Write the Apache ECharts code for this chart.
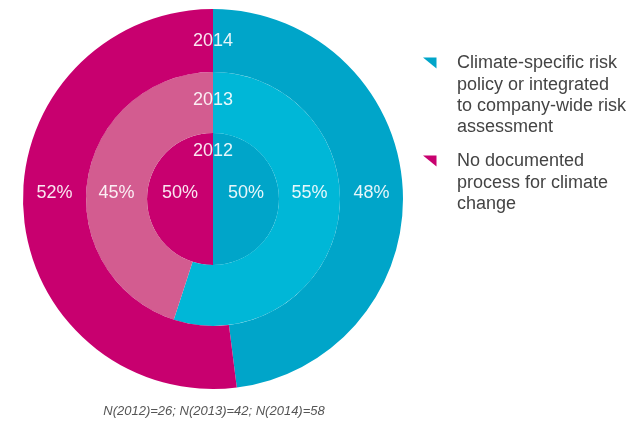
<!DOCTYPE html>
<html><head><meta charset="utf-8">
<script src="https://cdn.jsdelivr.net/npm/echarts@6/dist/echarts.min.js"></script>
<style>html,body{margin:0;padding:0;background:#fff}#c{width:634px;height:423px}</style>
</head><body><div id="c"></div>
<script>
// ---- data ----
const categories = [
  'Climate-specific risk\npolicy or integrated\nto company-wide risk\nassessment',
  'No documented\nprocess for climate\nchange'
];
const years = ['2012', '2013', '2014'];
const values2012 = [50, 50];
const values2013 = [55, 45];
const values2014 = [48, 52];
const footnote = 'N(2012)=26; N(2013)=42; N(2014)=58';

// ---- layout / style ----
const cx = 213, cy = 199;
const rings = [
  { year: years[0], values: values2012, r: [0, 66],   colors: ['#00a5c9', '#c8006f'], yearR: 48 },
  { year: years[1], values: values2013, r: [66, 127], colors: ['#00b7d7', '#d35c90'], yearR: 99 },
  { year: years[2], values: values2014, r: [127, 190], colors: ['#00a5c9', '#c8006f'], yearR: 158 }
];
const legendColors = ['#00a5c9', '#c8006f'];
const font = '"Liberation Sans", Arial, sans-serif';
const labelColor = 'rgba(255,255,255,0.9)';
const labelFont = '18px ' + font;

const series = rings.map(ring => ({
  type: 'pie',
  name: ring.year,
  center: [cx, cy],
  radius: ring.r,
  startAngle: 90,
  clockwise: true,
  silent: true,
  animation: false,
  label: { show: false },
  labelLine: { show: false },
  itemStyle: { borderWidth: 0 },
  data: ring.values.map((v, i) => ({
    name: categories[i], value: v, itemStyle: { color: ring.colors[i] }
  }))
}));

const graphics = [];
rings.forEach(ring => {
  const mid = (ring.r[0] + ring.r[1]) / 2;
  graphics.push({
    type: 'text', x: cx, y: cy - ring.yearR, z: 10,
    style: { text: ring.year, fill: labelColor, font: labelFont, align: 'center', verticalAlign: 'middle' }
  });
  graphics.push({
    type: 'text', x: cx + mid, y: cy - 6, z: 10,
    style: { text: ring.values[0] + '%', fill: labelColor, font: labelFont, align: 'center', verticalAlign: 'middle' }
  });
  graphics.push({
    type: 'text', x: cx - mid, y: cy - 6, z: 10,
    style: { text: ring.values[1] + '%', fill: labelColor, font: labelFont, align: 'center', verticalAlign: 'middle' }
  });
});

// legend
const lgX = 423, lgTextX = 457, lineH = 21.4, entryGap = 12.5;
let lgY = 52.5;
categories.forEach((name, i) => {
  const iy = lgY + 5;
  graphics.push({
    type: 'polygon',
    shape: { points: [[lgX, iy], [lgX + 13.5, iy], [lgX + 13.5, iy + 11]] },
    style: { fill: legendColors[i] }
  });
  graphics.push({
    type: 'text', x: lgTextX, y: lgY,
    style: { text: name, fill: '#444', font: '18px ' + font, lineHeight: lineH, align: 'left', verticalAlign: 'top' }
  });
  lgY += name.split('\n').length * lineH + entryGap;
});

// footnote
graphics.push({
  type: 'text', x: 214, y: 411,
  style: { text: footnote, fill: '#555', font: 'italic 13px ' + font, align: 'center', verticalAlign: 'middle' }
});

const chart = echarts.init(document.getElementById('c'), null, { renderer: 'canvas' });
chart.setOption({
  backgroundColor: '#fff',
  animation: false,
  series: series,
  graphic: graphics
});
</script>
</body></html>
